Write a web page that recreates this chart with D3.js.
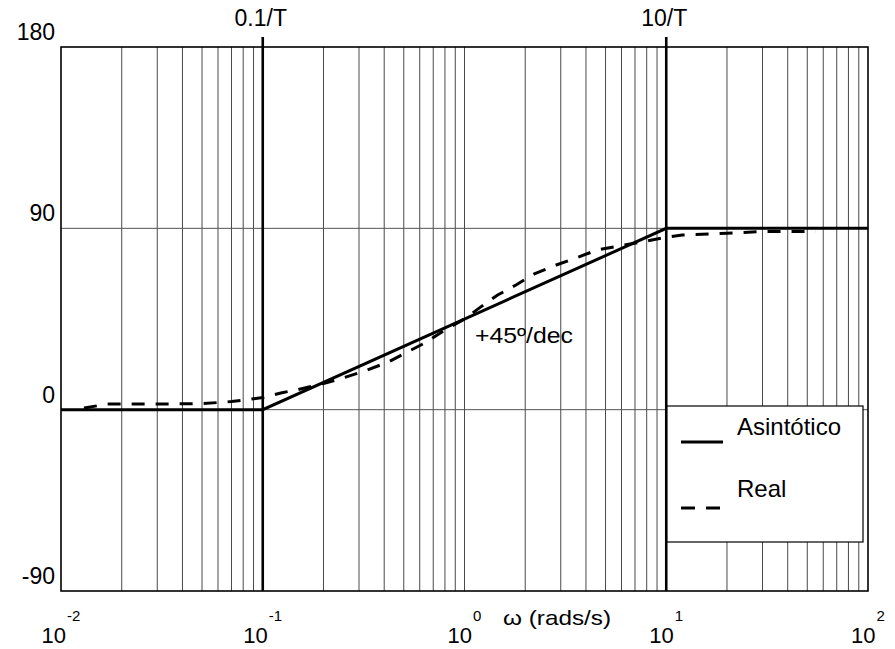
<!DOCTYPE html>
<html>
<head>
<meta charset="utf-8">
<script src="https://cdn.jsdelivr.net/npm/d3@7"></script>
<style>
  html, body { margin: 0; padding: 0; background: #fff; }
  svg { display: block; font-family: "Liberation Sans", Arial, Helvetica, sans-serif; }
</style>
</head>
<body>
<svg id="chart" width="895" height="649"></svg>
<script>
// Bode phase plot of a first-order zero: asymptotic vs. real phase
const asymOmega = [0.01, 0.1, 10, 100];
const asymPhase = [0, 0, 90, 90];

const realOmega = [0.013, 0.017, 0.03, 0.05, 0.07, 0.1, 0.123, 0.15, 0.2, 0.25, 0.32, 0.42, 0.52, 0.65, 0.8, 1.0, 1.2, 1.46, 1.8, 2.22, 2.85, 3.58, 4.55, 7.5, 9.5, 12, 20, 30, 55];
const realPhase = [0.8, 2.8, 2.8, 3.0, 4.0, 6.0, 8.3, 10.0, 13.0, 15.7, 19.2, 23.7, 28.6, 33.6, 39.6, 45.0, 50.9, 56.9, 61.9, 67.4, 71.8, 75.3, 79.3, 83.2, 85.2, 86.7, 87.6, 88.4, 88.4];

const decadeExponents = ["-2", "-1", "0", "1", "2"];
const yTicks = [-90, 0, 90, 180];
const markerOmega = [0.1, 10];
const markerLabels = ["0.1/T", "10/T"];
const xTitle = "\u03c9 (rads/s)";
const slopeLabel = "+45\u00ba/dec";
const legendLabels = ["Asint\u00f3tico", "Real"];

const svg = d3.select("#chart");
const L = 61, R = 868, T = 47, B = 591;

const x = d3.scaleLog().domain([0.01, 100]).range([L, R]);
const y = d3.scaleLinear().domain([-90, 180]).range([B, T]);

// vertical log grid (minor + decades)
const gridOmega = [];
for (let e = -2; e < 2; e++) {
  for (let k = 1; k <= 9; k++) {
    const v = k * Math.pow(10, e);
    if (v > 0.01) gridOmega.push(v);
  }
}
svg.append("g").selectAll("line").data(gridOmega).join("line")
  .attr("x1", d => x(d)).attr("x2", d => x(d))
  .attr("y1", T).attr("y2", B)
  .attr("stroke", "#4a4a4a").attr("stroke-width", 1);

// horizontal grid
svg.append("g").selectAll("line").data([0, 90]).join("line")
  .attr("x1", L).attr("x2", R)
  .attr("y1", d => y(d)).attr("y2", d => y(d))
  .attr("stroke", "#555").attr("stroke-width", 1);

// frame
svg.append("rect").attr("x", L).attr("y", T).attr("width", R - L).attr("height", B - T)
  .attr("fill", "none").attr("stroke", "#000").attr("stroke-width", 1.6);

// corner frequency markers
svg.append("g").selectAll("line").data(markerOmega).join("line")
  .attr("x1", d => x(d)).attr("x2", d => x(d))
  .attr("y1", T - 10).attr("y2", B)
  .attr("stroke", "#000").attr("stroke-width", 2.6);
svg.append("g").selectAll("text").data(markerLabels).join("text")
  .attr("x", (d, i) => x(markerOmega[i]) - 2)
  .attr("y", 26)
  .attr("text-anchor", "middle")
  .attr("font-size", 23)
  .text(d => d);

// y tick labels
svg.append("g").selectAll("text").data(yTicks).join("text")
  .attr("x", 55).attr("y", d => y(d) - 7)
  .attr("text-anchor", "end")
  .attr("font-size", 23)
  .text(d => d);

// x decade labels: 10^n
const xl = svg.append("g").selectAll("text").data(decadeExponents).join("text")
  .attr("x", (d, i) => x(Math.pow(10, i - 2)))
  .attr("y", 643)
  .attr("text-anchor", "middle")
  .attr("font-size", 22);
xl.append("tspan").text("10");
xl.append("tspan").attr("font-size", 15).attr("dy", -22).attr("dx", 1).text(d => d);

svg.append("text").attr("x", 503).attr("y", 625).attr("font-size", 21)
  .attr("textLength", 108).attr("lengthAdjust", "spacingAndGlyphs")
  .text(xTitle);

// real phase (dashed)
const line = d3.line().x(d => x(d[0])).y(d => y(d[1]));
svg.append("path")
  .datum(realOmega.map((w, i) => [w, realPhase[i]]))
  .attr("d", line)
  .attr("fill", "none").attr("stroke", "#000").attr("stroke-width", 3)
  .attr("stroke-dasharray", "13,11");

// asymptotic phase (solid)
svg.append("path")
  .datum(asymOmega.map((w, i) => [w, asymPhase[i]]))
  .attr("d", line)
  .attr("fill", "none").attr("stroke", "#000").attr("stroke-width", 3);

// slope annotation
svg.append("text").attr("x", 475).attr("y", 343).attr("font-size", 22)
  .attr("textLength", 98).attr("lengthAdjust", "spacingAndGlyphs")
  .text(slopeLabel);

// legend
const lg = svg.append("g");
lg.append("rect").attr("x", 667).attr("y", 406).attr("width", 196).attr("height", 136)
  .attr("fill", "#fff").attr("stroke", "#000").attr("stroke-width", 1.2);
lg.append("line").attr("x1", 681).attr("x2", 723).attr("y1", 442).attr("y2", 442)
  .attr("stroke", "#000").attr("stroke-width", 3);
lg.append("line").attr("x1", 681).attr("x2", 721).attr("y1", 508).attr("y2", 508)
  .attr("stroke", "#000").attr("stroke-width", 3).attr("stroke-dasharray", "14,11");
lg.selectAll("text").data(legendLabels).join("text")
  .attr("x", 737).attr("y", (d, i) => i === 0 ? 435 : 497)
  .attr("font-size", 24)
  .text(d => d);
</script>
</body>
</html>
